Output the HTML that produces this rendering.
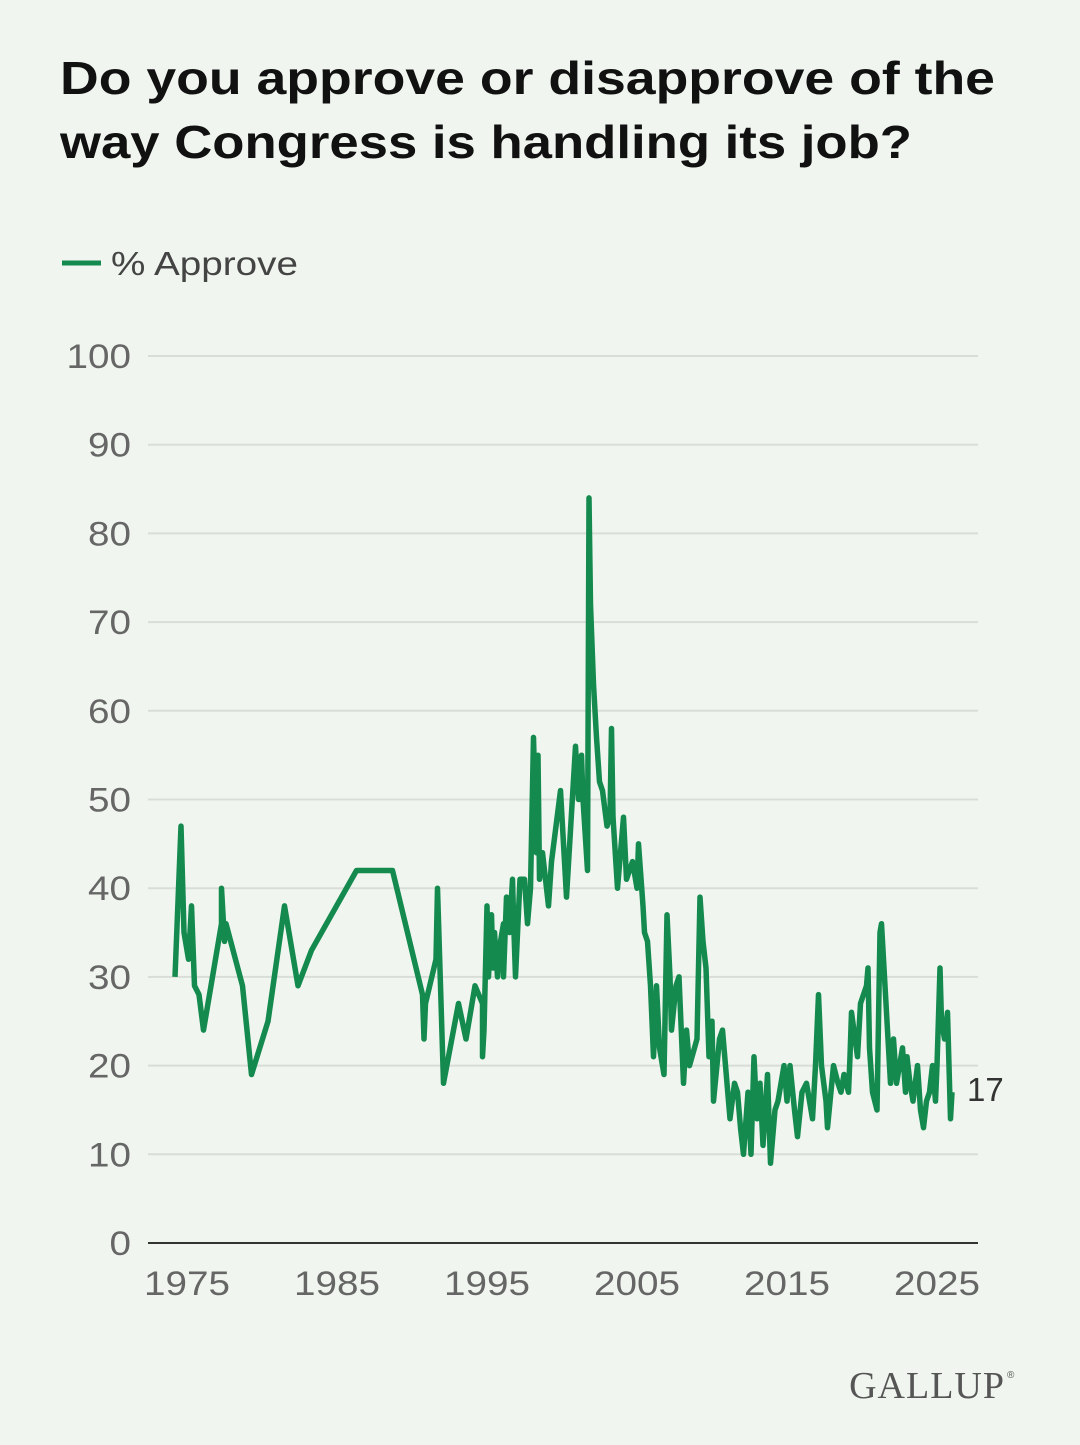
<!DOCTYPE html>
<html><head><meta charset="utf-8"><style>
body{margin:0;width:1080px;height:1440px;background:#f0f6ef;font-family:"Liberation Sans",sans-serif;overflow:hidden}
</style></head><body>
<svg width="1080" height="1440">
<text x="60" y="94" font-size="46" font-weight="bold" fill="#111" textLength="935" lengthAdjust="spacingAndGlyphs">Do you approve or disapprove of the</text>
<text x="60" y="158" font-size="46" font-weight="bold" fill="#111" textLength="852" lengthAdjust="spacingAndGlyphs">way Congress is handling its job?</text>
<line x1="62" y1="263" x2="101" y2="263" stroke="#148a4f" stroke-width="5"/>
<text x="111" y="275" font-size="33" fill="#444" textLength="187" lengthAdjust="spacingAndGlyphs">% Approve</text>
<g id="grid"></g><g id="plot"></g>
<text x="967" y="1101" font-size="33" fill="#333">17</text>
<text x="1005" y="1398" font-size="38" font-family="Liberation Serif,serif" fill="#555" text-anchor="end" letter-spacing="1">GALLUP</text>
<text x="1007" y="1378" font-size="10" fill="#555">®</text>
</svg>
<script>
const yTicks=[0,10,20,30,40,50,60,70,80,90,100];
const xTicks=[1975,1985,1995,2005,2015,2025];
const years=[1974.2,1974.6,1974.8,1975.1,1975.3,1975.5,1975.8,1976.1,1977.3,1977.3,1977.5,1977.6,1978.7,1979.3,1980.4,1981.5,1982.4,1983.3,1986.3,1988.7,1990.7,1990.8,1990.9,1991.6,1991.7,1992.1,1993.1,1993.6,1994.2,1994.7,1994.7,1994.8,1995.0,1995.1,1995.3,1995.4,1995.5,1995.7,1995.9,1996.1,1996.1,1996.3,1996.5,1996.7,1996.8,1996.9,1997.2,1997.5,1997.7,1997.9,1998.1,1998.3,1998.4,1998.5,1998.7,1999.1,1999.3,1999.9,2000.3,2000.9,2001.1,2001.3,2001.4,2001.7,2001.8,2001.9,2002.1,2002.3,2002.5,2002.7,2003.0,2003.2,2003.3,2003.4,2003.7,2004.1,2004.3,2004.7,2005.0,2005.1,2005.4,2005.5,2005.7,2005.9,2006.1,2006.3,2006.5,2006.8,2007.0,2007.2,2007.3,2007.6,2007.8,2008.1,2008.3,2008.5,2009.0,2009.2,2009.4,2009.6,2009.8,2010.0,2010.1,2010.5,2010.7,2011.2,2011.5,2011.7,2011.9,2012.1,2012.4,2012.6,2012.8,2013.0,2013.2,2013.4,2013.7,2013.9,2014.2,2014.4,2014.8,2015.0,2015.2,2015.5,2015.7,2016.0,2016.3,2016.7,2016.9,2017.1,2017.3,2017.6,2017.7,2018.1,2018.4,2018.6,2018.8,2019.1,2019.2,2019.3,2019.7,2019.9,2020.3,2020.4,2020.5,2020.7,2021.0,2021.2,2021.3,2021.5,2021.7,2021.9,2022.1,2022.3,2022.7,2022.9,2023.0,2023.2,2023.4,2023.7,2023.9,2024.1,2024.3,2024.5,2024.7,2024.9,2025.0,2025.2,2025.3,2025.5,2025.7,2025.9,2026.0];
const approve=[30,47,35,32,38,29,28,24,36,40,34,36,29,19,25,38,29,33,42,42,28,23,27,32,40,18,27,23,29,27,21,24,38,30,37,31,35,30,34,36,30,39,35,41,35,30,41,41,36,40,57,44,55,41,44,38,43,51,39,56,50,55,50,42,84,72,63,57,52,51,47,48,58,48,40,48,41,43,40,45,38,35,34,29,21,29,22,19,37,30,24,29,30,18,24,20,23,39,34,31,21,25,16,23,24,14,18,17,13,10,17,10,21,14,18,11,19,9,15,16,20,16,20,15,12,17,18,14,20,28,20,16,13,20,18,17,19,17,21,26,21,27,29,31,22,17,15,35,36,30,24,18,23,18,22,17,21,18,16,20,15,13,16,17,20,16,20,31,25,23,26,14,17];
const X=y=>187+(y-1975)*15, Y=v=>1243-v*8.87;
const NS='http://www.w3.org/2000/svg';
const grid=document.getElementById('grid'), plot=document.getElementById('plot');
yTicks.forEach(t=>{
  const l=document.createElementNS(NS,'line');
  l.setAttribute('x1',148);l.setAttribute('x2',978);l.setAttribute('y1',Y(t));l.setAttribute('y2',Y(t));
  l.setAttribute('stroke',t===0?'#333':'#d9ddd8');l.setAttribute('stroke-width',2);
  
  
  grid.appendChild(l);
  const tx=document.createElementNS(NS,'text');
  tx.setAttribute('x',131);tx.setAttribute('y',Y(t)+12);tx.setAttribute('text-anchor','end');
  tx.setAttribute('font-size','34');tx.setAttribute('fill','#666');tx.textContent=t;
  tx.setAttribute('textLength',String(t).length*21.5);tx.setAttribute('lengthAdjust','spacingAndGlyphs');
  
  
  grid.appendChild(tx);
});
xTicks.forEach(t=>{
  const tx=document.createElementNS(NS,'text');
  tx.setAttribute('x',X(t));tx.setAttribute('y',1295);tx.setAttribute('text-anchor','middle');
  tx.setAttribute('font-size','34');tx.setAttribute('fill','#666');tx.textContent=t;
  tx.setAttribute('textLength',86);tx.setAttribute('lengthAdjust','spacingAndGlyphs');
  
  
  grid.appendChild(tx);
});
const p=document.createElementNS(NS,'polyline');
p.setAttribute('points',years.map((y,i)=>X(y).toFixed(1)+','+Y(approve[i]).toFixed(1)).join(' '));
p.setAttribute('fill','none');p.setAttribute('stroke','#148a4f');p.setAttribute('stroke-width','5.5');p.setAttribute('stroke-linejoin','round');


plot.appendChild(p);
</script>
</body></html>
